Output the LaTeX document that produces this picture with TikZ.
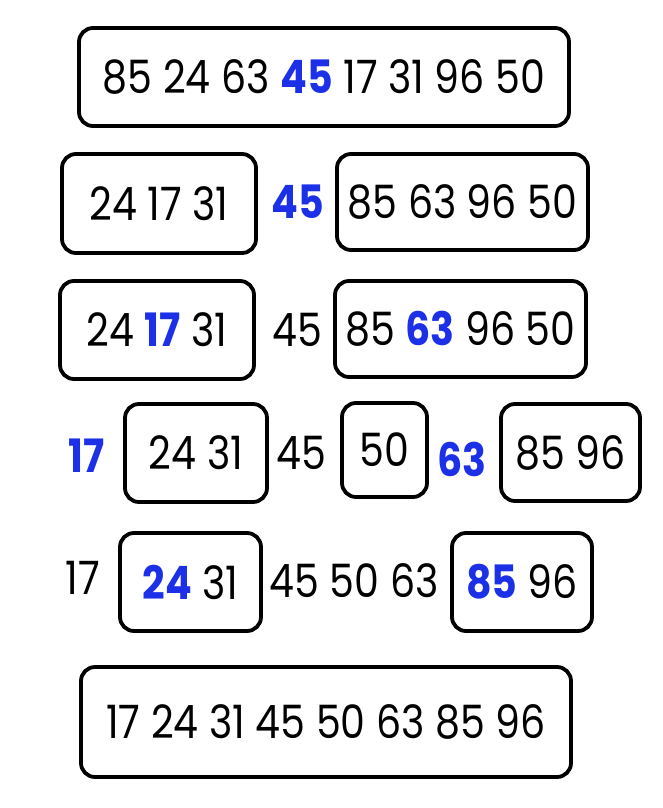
\documentclass[tikz,border=0pt]{standalone}
\usepackage{fontspec}
\setmainfont{Poppins}[FakeStretch=0.86]
\definecolor{pivot}{RGB}{28,48,232}
\newcommand{\pv}[1]{\textcolor{pivot}{\bfseries #1}}
\begin{document}
\begin{tikzpicture}[x=1pt,y=-1pt,
  box/.style={draw=black,line width=3.8pt,rounded corners=14pt,inner sep=0pt,
    font=\fontsize{46}{50}\selectfont},
  num/.style={inner sep=0pt,font=\fontsize{46}{50}\selectfont}]
\useasboundingbox (0,0) rectangle (662,808);
% row 1
\node[box,minimum width=490pt,minimum height=98pt] (r1) at (324,77) {85 24 63 \pv{45} 17 31 96 50};
% row 2
\node[box,minimum width=194pt,minimum height=99pt] (r2a) at (159,203.5) {24 17 31};
\node[num] (r2p) at (298,202) {\pv{45}};
\node[box,minimum width=251pt,minimum height=96pt] (r2b) at (462.5,202) {85 63 96 50};
% row 3
\node[box,minimum width=194pt,minimum height=98pt] (r3a) at (157,330) {24 \pv{17} 31};
\node[num] (r3p) at (297,330) {45};
\node[box,minimum width=251pt,minimum height=96pt] (r3b) at (460.5,329) {85 \pv{63} 96 50};
% row 4
\node[num] (r4x) at (87,456) {\pv{17}};
\node[box,minimum width=142pt,minimum height=98pt] (r4a) at (196,453) {24 31};
\node[num] (r4p) at (301,453) {45};
\node[box,minimum width=85pt,minimum height=94pt] (r4b) at (384.5,450) {50};
\node[num] (r4q) at (462,459) {\pv{63}};
\node[box,minimum width=139pt,minimum height=97pt] (r4c) at (570.5,452.5) {85 96};
% row 5
\node[num] (r5x) at (83,578) {17};
\node[box,minimum width=141pt,minimum height=98pt] (r5a) at (190.5,582) {\pv{24} 31};
\node[num] (r5m) at (354,581) {45 50 63};
\node[box,minimum width=140pt,minimum height=98pt] (r5b) at (522,582) {\pv{85} 96};
% row 6
\node[box,minimum width=490pt,minimum height=110pt] (r6) at (326,722) {17 24 31 45 50 63 85 96};
\end{tikzpicture}
\end{document}
